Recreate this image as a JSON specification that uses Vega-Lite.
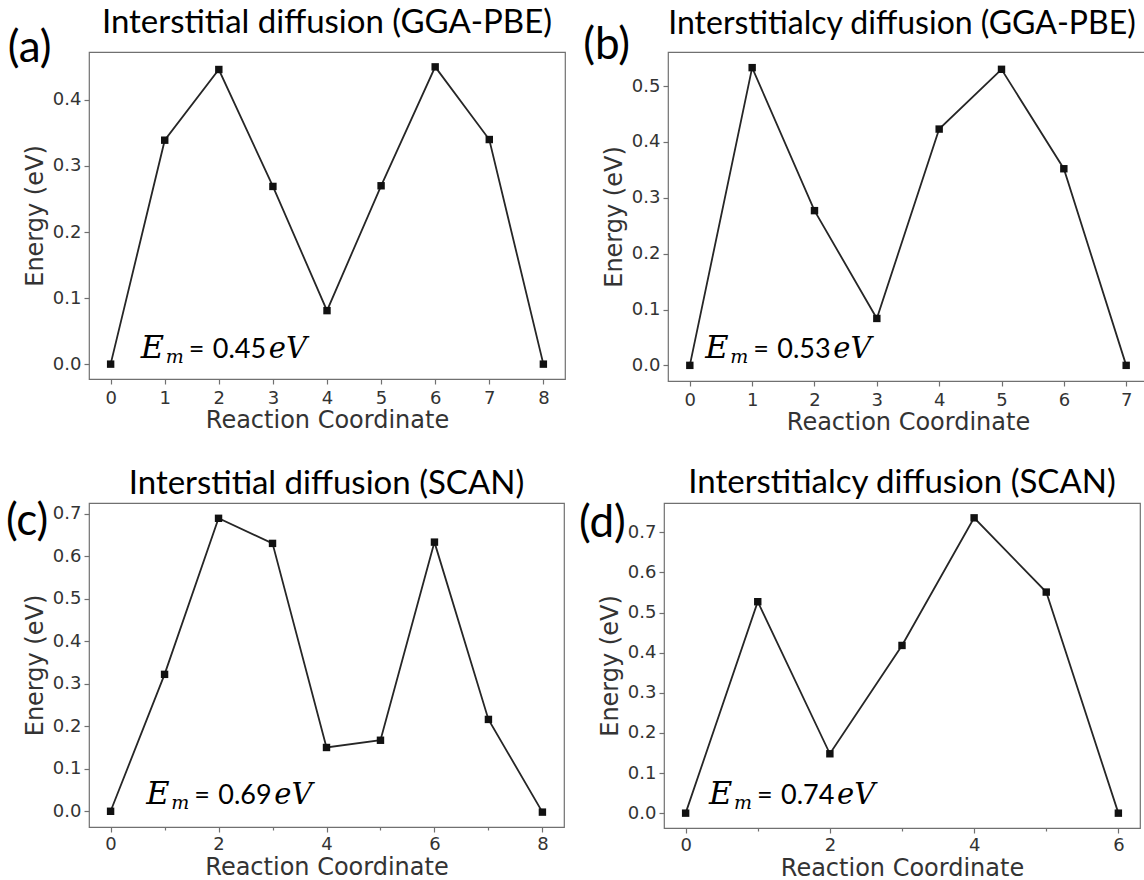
{
  "$schema": "https://vega.github.io/schema/vega-lite/v6.json",
  "background": "white",
  "padding": {"left": 5, "top": 6, "right": 0, "bottom": 0},
  "datasets": {
    "interstitial_pbe": [
      {"rc": 0, "energy": 0.0}, {"rc": 1, "energy": 0.339}, {"rc": 2, "energy": 0.446},
      {"rc": 3, "energy": 0.269}, {"rc": 4, "energy": 0.081}, {"rc": 5, "energy": 0.27},
      {"rc": 6, "energy": 0.45}, {"rc": 7, "energy": 0.34}, {"rc": 8, "energy": 0.0}
    ],
    "interstitialcy_pbe": [
      {"rc": 0, "energy": 0.0}, {"rc": 1, "energy": 0.533}, {"rc": 2, "energy": 0.277},
      {"rc": 3, "energy": 0.084}, {"rc": 4, "energy": 0.423}, {"rc": 5, "energy": 0.53},
      {"rc": 6, "energy": 0.352}, {"rc": 7, "energy": 0.0}
    ],
    "interstitial_scan": [
      {"rc": 0, "energy": 0.0}, {"rc": 1, "energy": 0.322}, {"rc": 2, "energy": 0.689},
      {"rc": 3, "energy": 0.63}, {"rc": 4, "energy": 0.15}, {"rc": 5, "energy": 0.167},
      {"rc": 6, "energy": 0.633}, {"rc": 7, "energy": 0.216}, {"rc": 8, "energy": -0.002}
    ],
    "interstitialcy_scan": [
      {"rc": 0, "energy": 0.0}, {"rc": 1, "energy": 0.527}, {"rc": 2, "energy": 0.148},
      {"rc": 3, "energy": 0.418}, {"rc": 4, "energy": 0.736}, {"rc": 5, "energy": 0.551},
      {"rc": 6, "energy": 0.0}
    ]
  },
  "config": {
    "view": {"stroke": "#707070", "strokeWidth": 1.2},
    "axis": {
      "domain": false, "grid": false,
      "tickColor": "#707070", "tickWidth": 1.2, "tickSize": 5,
      "labelFont": "DejaVu Sans", "labelFontSize": 18, "labelColor": "#333333", "labelPadding": 3,
      "labelOverlap": false, "labelFlush": false,
      "titleFont": "DejaVu Sans", "titleFontSize": 24, "titleFontWeight": "normal", "titleColor": "#333333"
    },
    "axisX": {"titlePadding": 1, "labelPadding": 5},
    "axisY": {"titlePadding": 5},
    "title": {"font": "Lato", "fontSize": 33, "fontWeight": "normal", "color": "#000000", "anchor": "middle", "frame": "group"},
    "text": {"font": "Lato", "color": "#000000"}
  },
  "spacing": 31,
  "vconcat": [
    {
      "spacing": 16,
      "hconcat": [
        {
          "width": 476, "height": 327,
          "title": {"text": "Interstitial diffusion (GGA-PBE)", "offset": -13},
          "data": {"name": "interstitial_pbe"},
          "layer": [
            {
              "mark": {"type": "line", "color": "#262626", "strokeWidth": 1.8},
              "encoding": {
                "x": {"field": "rc", "type": "quantitative",
                      "scale": {"domain": [-0.4, 8.4], "nice": false, "zero": false},
                      "axis": {"title": "Reaction Coordinate", "values": [0, 1, 2, 3, 4, 5, 6, 7, 8], "format": "d"}},
                "y": {"field": "energy", "type": "quantitative",
                      "scale": {"domain": [-0.0225, 0.4725], "nice": false, "zero": false},
                      "axis": {"title": "Energy (eV)",
                               "values": [0, 0.05, 0.1, 0.15, 0.2, 0.25, 0.3, 0.35, 0.4, 0.45],
                               "labelExpr": "round(datum.value*100) % 10 == 0 ? format(datum.value, '.1f') : ''",
                               "tickSize": {"condition": {"test": "round(datum.value*100) % 10 != 0", "value": 3}, "value": 5}}}
              }
            },
            {
              "mark": {"type": "point", "shape": "square", "filled": true, "size": 55, "color": "#111111", "opacity": 1},
              "encoding": {"x": {"field": "rc", "type": "quantitative"}, "y": {"field": "energy", "type": "quantitative"}}
            },
            {
              "transform": [{"aggregate": [{"op": "max", "field": "energy", "as": "em"}]}],
              "encoding": {
                "x": {"datum": 0.558, "type": "quantitative"},
                "y": {"datum": 0.0095, "type": "quantitative"}
              },
              "layer": [
                {"mark": {"type": "text", "text": "E", "font": "DejaVu Serif", "fontStyle": "italic", "fontSize": 32, "align": "left", "baseline": "alphabetic"}},
                {"mark": {"type": "text", "text": "m", "font": "DejaVu Serif", "fontStyle": "italic", "fontSize": 19, "align": "left", "baseline": "alphabetic", "dx": 25, "dy": 5}},
                {"mark": {"type": "text", "text": "=", "fontSize": 27, "align": "left", "baseline": "alphabetic", "dx": 48}},
                {"mark": {"type": "text", "fontSize": 27, "align": "left", "baseline": "alphabetic", "dx": 72},
                 "encoding": {"text": {"field": "em", "type": "quantitative", "format": ".2f"}}},
                {"mark": {"type": "text", "text": "eV", "font": "DejaVu Serif", "fontStyle": "italic", "fontSize": 29, "align": "left", "baseline": "alphabetic", "dx": 128}},
                {"mark": {"type": "text", "text": "(a)", "fontSize": 44, "align": "left", "baseline": "alphabetic"},
                 "encoding": {"x": {"datum": -1.9, "type": "quantitative"}, "y": {"datum": 0.457, "type": "quantitative"}}}
              ]
            }
          ]
        },
        {
          "width": 480, "height": 329,
          "title": {"text": "Interstitialcy diffusion (GGA-PBE)", "offset": -17, "fontSize": 32, "dx": -6},
          "data": {"name": "interstitialcy_pbe"},
          "layer": [
            {
              "mark": {"type": "line", "color": "#262626", "strokeWidth": 1.8},
              "encoding": {
                "x": {"field": "rc", "type": "quantitative",
                      "scale": {"domain": [-0.35, 7.35], "nice": false, "zero": false},
                      "axis": {"title": "Reaction Coordinate", "values": [0, 1, 2, 3, 4, 5, 6, 7], "format": "d"}},
                "y": {"field": "energy", "type": "quantitative",
                      "scale": {"domain": [-0.028, 0.561], "nice": false, "zero": false},
                      "axis": {"title": "Energy (eV)",
                               "values": [0, 0.05, 0.1, 0.15, 0.2, 0.25, 0.3, 0.35, 0.4, 0.45, 0.5, 0.55],
                               "labelExpr": "round(datum.value*100) % 10 == 0 ? format(datum.value, '.1f') : ''",
                               "tickSize": {"condition": {"test": "round(datum.value*100) % 10 != 0", "value": 3}, "value": 5}}}
              }
            },
            {
              "mark": {"type": "point", "shape": "square", "filled": true, "size": 55, "color": "#111111", "opacity": 1},
              "encoding": {"x": {"field": "rc", "type": "quantitative"}, "y": {"field": "energy", "type": "quantitative"}}
            },
            {
              "transform": [{"aggregate": [{"op": "max", "field": "energy", "as": "em"}]}],
              "encoding": {
                "x": {"datum": 0.247, "type": "quantitative"},
                "y": {"datum": 0.0138, "type": "quantitative"}
              },
              "layer": [
                {"mark": {"type": "text", "text": "E", "font": "DejaVu Serif", "fontStyle": "italic", "fontSize": 32, "align": "left", "baseline": "alphabetic"}},
                {"mark": {"type": "text", "text": "m", "font": "DejaVu Serif", "fontStyle": "italic", "fontSize": 19, "align": "left", "baseline": "alphabetic", "dx": 25, "dy": 5}},
                {"mark": {"type": "text", "text": "=", "fontSize": 27, "align": "left", "baseline": "alphabetic", "dx": 48}},
                {"mark": {"type": "text", "fontSize": 27, "align": "left", "baseline": "alphabetic", "dx": 72},
                 "encoding": {"text": {"field": "em", "type": "quantitative", "format": ".2f"}}},
                {"mark": {"type": "text", "text": "eV", "font": "DejaVu Serif", "fontStyle": "italic", "fontSize": 29, "align": "left", "baseline": "alphabetic", "dx": 128}},
                {"mark": {"type": "text", "text": "(b)", "fontSize": 44, "align": "left", "baseline": "alphabetic"},
                 "encoding": {"x": {"datum": -1.71, "type": "quantitative"}, "y": {"datum": 0.548, "type": "quantitative"}}}
              ]
            }
          ]
        }
      ]
    },
    {
      "spacing": 13,
      "hconcat": [
        {
          "width": 475, "height": 324,
          "title": {"text": "Interstitial diffusion (SCAN)", "offset": -1},
          "data": {"name": "interstitial_scan"},
          "layer": [
            {
              "mark": {"type": "line", "color": "#262626", "strokeWidth": 1.8},
              "encoding": {
                "x": {"field": "rc", "type": "quantitative",
                      "scale": {"domain": [-0.4, 8.4], "nice": false, "zero": false},
                      "axis": {"title": "Reaction Coordinate", "titlePadding": 2, "labelPadding": 3, "values": [0, 1, 2, 3, 4, 5, 6, 7, 8],
                               "labelExpr": "datum.value % 2 == 0 ? format(datum.value, 'd') : ''",
                               "tickSize": {"condition": {"test": "datum.value % 2 != 0", "value": 3}, "value": 5}}},
                "y": {"field": "energy", "type": "quantitative",
                      "scale": {"domain": [-0.037, 0.725], "nice": false, "zero": false},
                      "axis": {"title": "Energy (eV)",
                               "values": [0, 0.05, 0.1, 0.15, 0.2, 0.25, 0.3, 0.35, 0.4, 0.45, 0.5, 0.55, 0.6, 0.65, 0.7],
                               "labelExpr": "round(datum.value*100) % 10 == 0 ? format(datum.value, '.1f') : ''",
                               "tickSize": {"condition": {"test": "round(datum.value*100) % 10 != 0", "value": 3}, "value": 5}}}
              }
            },
            {
              "mark": {"type": "point", "shape": "square", "filled": true, "size": 55, "color": "#111111", "opacity": 1},
              "encoding": {"x": {"field": "rc", "type": "quantitative"}, "y": {"field": "energy", "type": "quantitative"}}
            },
            {
              "transform": [{"aggregate": [{"op": "max", "field": "energy", "as": "em"}]}],
              "encoding": {
                "x": {"datum": 0.662, "type": "quantitative"},
                "y": {"datum": 0.0175, "type": "quantitative"}
              },
              "layer": [
                {"mark": {"type": "text", "text": "E", "font": "DejaVu Serif", "fontStyle": "italic", "fontSize": 32, "align": "left", "baseline": "alphabetic"}},
                {"mark": {"type": "text", "text": "m", "font": "DejaVu Serif", "fontStyle": "italic", "fontSize": 19, "align": "left", "baseline": "alphabetic", "dx": 25, "dy": 5}},
                {"mark": {"type": "text", "text": "=", "fontSize": 27, "align": "left", "baseline": "alphabetic", "dx": 48}},
                {"mark": {"type": "text", "fontSize": 27, "align": "left", "baseline": "alphabetic", "dx": 72},
                 "encoding": {"text": {"field": "em", "type": "quantitative", "format": ".2f"}}},
                {"mark": {"type": "text", "text": "eV", "font": "DejaVu Serif", "fontStyle": "italic", "fontSize": 29, "align": "left", "baseline": "alphabetic", "dx": 128}},
                {"mark": {"type": "text", "text": "(c)", "fontSize": 44, "align": "left", "baseline": "alphabetic"},
                 "encoding": {"x": {"datum": -1.94, "type": "quantitative"}, "y": {"datum": 0.65, "type": "quantitative"}}}
              ]
            }
          ]
        },
        {
          "width": 476, "height": 325,
          "title": {"text": "Interstitialcy diffusion (SCAN)", "offset": 2},
          "data": {"name": "interstitialcy_scan"},
          "layer": [
            {
              "mark": {"type": "line", "color": "#262626", "strokeWidth": 1.8},
              "encoding": {
                "x": {"field": "rc", "type": "quantitative",
                      "scale": {"domain": [-0.3, 6.3], "nice": false, "zero": false},
                      "axis": {"title": "Reaction Coordinate", "titlePadding": 2, "labelPadding": 3, "values": [0, 1, 2, 3, 4, 5, 6],
                               "labelExpr": "datum.value % 2 == 0 ? format(datum.value, 'd') : ''",
                               "tickSize": {"condition": {"test": "datum.value % 2 != 0", "value": 3}, "value": 5}}},
                "y": {"field": "energy", "type": "quantitative",
                      "scale": {"domain": [-0.037, 0.773], "nice": false, "zero": false},
                      "axis": {"title": "Energy (eV)",
                               "values": [0, 0.05, 0.1, 0.15, 0.2, 0.25, 0.3, 0.35, 0.4, 0.45, 0.5, 0.55, 0.6, 0.65, 0.7, 0.75],
                               "labelExpr": "round(datum.value*100) % 10 == 0 ? format(datum.value, '.1f') : ''",
                               "tickSize": {"condition": {"test": "round(datum.value*100) % 10 != 0", "value": 3}, "value": 5}}}
              }
            },
            {
              "mark": {"type": "point", "shape": "square", "filled": true, "size": 55, "color": "#111111", "opacity": 1},
              "encoding": {"x": {"field": "rc", "type": "quantitative"}, "y": {"field": "energy", "type": "quantitative"}}
            },
            {
              "transform": [{"aggregate": [{"op": "max", "field": "energy", "as": "em"}]}],
              "encoding": {
                "x": {"datum": 0.324, "type": "quantitative"},
                "y": {"datum": 0.024, "type": "quantitative"}
              },
              "layer": [
                {"mark": {"type": "text", "text": "E", "font": "DejaVu Serif", "fontStyle": "italic", "fontSize": 32, "align": "left", "baseline": "alphabetic"}},
                {"mark": {"type": "text", "text": "m", "font": "DejaVu Serif", "fontStyle": "italic", "fontSize": 19, "align": "left", "baseline": "alphabetic", "dx": 25, "dy": 5}},
                {"mark": {"type": "text", "text": "=", "fontSize": 27, "align": "left", "baseline": "alphabetic", "dx": 48}},
                {"mark": {"type": "text", "fontSize": 27, "align": "left", "baseline": "alphabetic", "dx": 72},
                 "encoding": {"text": {"field": "em", "type": "quantitative", "format": ".2f"}}},
                {"mark": {"type": "text", "text": "eV", "font": "DejaVu Serif", "fontStyle": "italic", "fontSize": 29, "align": "left", "baseline": "alphabetic", "dx": 128}},
                {"mark": {"type": "text", "text": "(d)", "fontSize": 44, "align": "left", "baseline": "alphabetic"},
                 "encoding": {"x": {"datum": -1.48, "type": "quantitative"}, "y": {"datum": 0.688, "type": "quantitative"}}}
              ]
            }
          ]
        }
      ]
    }
  ]
}
